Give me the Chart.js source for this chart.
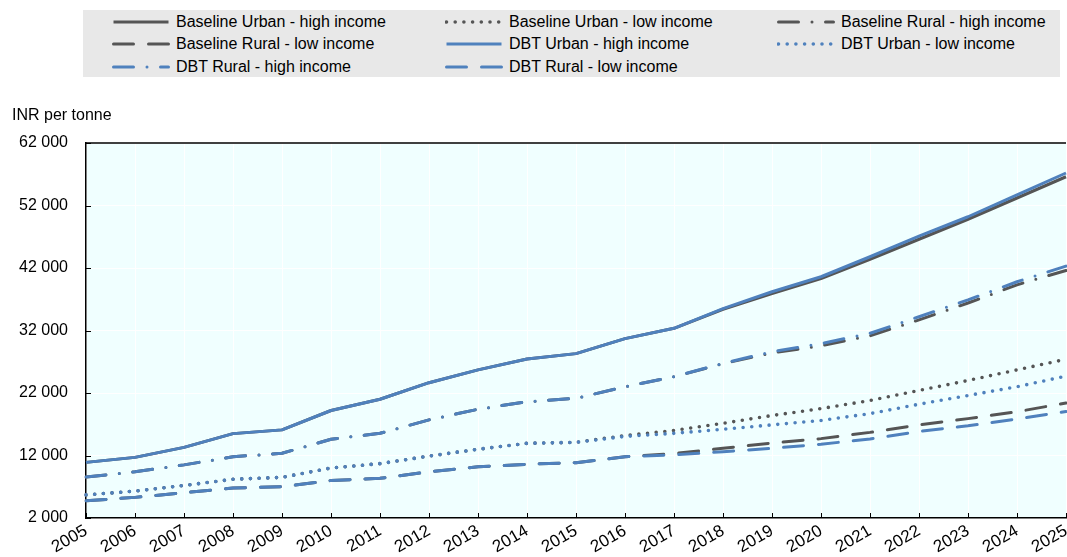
<!DOCTYPE html>
<html>
<head>
<meta charset="utf-8">
<script src="https://cdn.jsdelivr.net/npm/chart.js@4/dist/chart.umd.min.js"></script>
<style>
    body { margin: 0; background: #fff; overflow: hidden; font-family: Arial, "Liberation Sans", sans-serif; }
    #wrap { position: absolute; left: 0; top: 0; width: 1067px; height: 557px; }
    #legend-box { position: absolute; left: 83px; top: 10px; width: 977px; height: 67px; background: #e8e8e8; }
    .legend-item { position: absolute; height: 22px; display: flex; align-items: center; font-size: 16px; color: #000; white-space: nowrap; }
    .legend-item svg { width: 58px; height: 8px; margin-right: 6px; }
    #y-title { position: absolute; left: 12px; top: 106px; font-size: 16px; color: #000; }
</style>
</head>
<body>
<div id="wrap">
    <canvas id="price-chart"></canvas>
</div>
<div id="legend-box"></div>
<div id="y-title">INR per tonne</div>

<script>
/* data */
const years = ["2005", "2006", "2007", "2008", "2009", "2010", "2011", "2012", "2013", "2014", "2015",
               "2016", "2017", "2018", "2019", "2020", "2021", "2022", "2023", "2024", "2025"];

const baseUrbanHigh = [10900, 11700, 13300, 15500, 16100, 19200, 21000, 23650, 25700, 27450, 28300,
                       30700, 32350, 35400, 37900, 40300, 43400, 46600, 49800, 53200, 56600];
const baseUrbanLow  = [5700, 6300, 7200, 8200, 8500, 10000, 10700, 11900, 13000, 13950, 14100,
                       15200, 16000, 17150, 18400, 19500, 20800, 22400, 24000, 25700, 27400];
const baseRuralHigh = [8550, 9400, 10500, 11800, 12350, 14600, 15550, 17700, 19400, 20600, 21150,
                       23000, 24600, 26700, 28400, 29550, 31150, 33700, 36400, 39300, 41600];
const baseRuralLow  = [4750, 5300, 6050, 6800, 7000, 8000, 8350, 9400, 10200, 10600, 10850,
                       11800, 12300, 13150, 14000, 14700, 15700, 16900, 17900, 19000, 20400];

const dbtUrbanHigh = [10900, 11700, 13300, 15500, 16100, 19200, 21000, 23650, 25700, 27450, 28300,
                      30700, 32350, 35500, 38200, 40600, 43800, 47100, 50200, 53700, 57200];
const dbtUrbanLow  = [5700, 6300, 7200, 8200, 8500, 10000, 10700, 11900, 13000, 13950, 14100,
                      15050, 15550, 16200, 16900, 17600, 18700, 20200, 21600, 23000, 24700];
const dbtRuralHigh = [8550, 9400, 10500, 11800, 12350, 14600, 15550, 17700, 19400, 20600, 21150,
                      23000, 24600, 26750, 28600, 29900, 31550, 34200, 36900, 39800, 42300];
const dbtRuralLow  = [4750, 5300, 6050, 6800, 7000, 8000, 8350, 9400, 10200, 10600, 10850,
                      11800, 12100, 12600, 13150, 13800, 14650, 15850, 16750, 17850, 19050];

const yTicks = [2000, 12000, 22000, 32000, 42000, 52000, 62000];

const GREY = "#555555";
const BLUE = "#4f81bd";

// line patterns
const SOLID = [];
const DOTS = [0, 8.7];
const DASH_DOT = [20, 13.5, 0, 13.5];
const DASHED = [20, 15];

function makeLine(label, data, color, dash, order) {
    return {
        label: label,
        data: data,
        borderColor: color,
        backgroundColor: color,
        borderWidth: dash === DOTS ? 3.6 : 3,
        borderDash: dash,
        borderCapStyle: dash.length ? "round" : "butt",
        borderJoinStyle: "round",
        pointRadius: 0,
        tension: 0,
        fill: false,
        order: order
    };
}

// space as thousands separator
function formatThousands(value) {
    return String(value).replace(/\B(?=(\d{3})+(?!\d))/g, " ");
}

// plot background + top border + inner tick marks
const plotDecor = {
    id: "plotDecor",
    beforeDraw(chart) {
        const { ctx, chartArea } = chart;
        ctx.save();
        ctx.fillStyle = "#f0ffff";
        ctx.fillRect(chartArea.left, chartArea.top, chartArea.right - chartArea.left, chartArea.bottom - chartArea.top);
        ctx.restore();
    },
    afterDraw(chart) {
        const { ctx, chartArea, scales } = chart;
        ctx.save();
        ctx.strokeStyle = "#000";
        ctx.lineWidth = 1.5;

        ctx.beginPath();
        ctx.moveTo(chartArea.left, chartArea.top);
        ctx.lineTo(chartArea.right, chartArea.top);
        ctx.stroke();

        ctx.lineWidth = 1;
        ctx.beginPath();
        yTicks.forEach(v => {
            const y = Math.round(scales.y.getPixelForValue(v)) + 0.5;
            ctx.moveTo(chartArea.left, y);
            ctx.lineTo(chartArea.left + 5, y);
        });
        years.forEach((yr, i) => {
            const x = Math.round(scales.x.getPixelForValue(i)) + 0.5;
            ctx.moveTo(x, chartArea.bottom);
            ctx.lineTo(x, chartArea.bottom - 5);
        });
        ctx.stroke();
        ctx.restore();
    }
};

const datasets = [
    makeLine("Baseline Urban - high income", baseUrbanHigh, GREY, SOLID, 2),
    makeLine("Baseline Urban - low income", baseUrbanLow, GREY, DOTS, 2),
    makeLine("Baseline Rural - high income", baseRuralHigh, GREY, DASH_DOT, 2),
    makeLine("Baseline Rural - low income", baseRuralLow, GREY, DASHED, 2),
    makeLine("DBT Urban - high income", dbtUrbanHigh, BLUE, SOLID, 1),
    makeLine("DBT Urban - low income", dbtUrbanLow, BLUE, DOTS, 1),
    makeLine("DBT Rural - high income", dbtRuralHigh, BLUE, DASH_DOT, 1),
    makeLine("DBT Rural - low income", dbtRuralLow, BLUE, DASHED, 1)
];

Chart.defaults.font.family = 'Arial, "Liberation Sans", sans-serif';
Chart.defaults.font.size = 16;
Chart.defaults.color = "#000";

const ctx = document.getElementById("price-chart").getContext("2d");

const priceChart = new Chart(ctx, {
    type: "line",
    data: { labels: years, datasets: datasets },
    options: {
        responsive: true,
        maintainAspectRatio: false,
        animation: false,
        layout: { padding: { top: 143, left: 0, right: 1, bottom: 0 } },
        plugins: {
            legend: { display: false },
            tooltip: { enabled: false }
        },
        scales: {
            x: {
                grid: { color: "#ffffff", lineWidth: 1, drawTicks: false },
                border: { color: "#000", width: 1.5 },
                ticks: { maxRotation: 30, minRotation: 30, padding: 3, autoSkip: false, font: { size: 17 } },
                afterFit(scale) {
                    scale.height = 39;
                    scale.paddingLeft = 0;
                    scale.paddingRight = 0;
                }
            },
            y: {
                min: 2000,
                max: 62000,
                afterBuildTicks(scale) {
                    scale.ticks = yTicks.map(v => ({ value: v }));
                },
                grid: { color: "#ffffff", lineWidth: 1, drawTicks: false },
                border: { color: "#000", width: 1.5 },
                ticks: {
                    padding: 18,
                    callback: value => formatThousands(value)
                },
                afterFit(scale) {
                    scale.width = 86;
                }
            }
        }
    },
    plugins: [plotDecor]
});

// legend: 3 columns, row-major
function renderLegend(chart) {
    const box = document.getElementById("legend-box");
    const colLeft = [112, 445, 777];
    const rowTop = [11, 33, 56];
    chart.data.datasets.forEach((ds, i) => {
        const col = i % 3;
        const row = Math.floor(i / 3);
        const item = document.createElement("div");
        item.className = "legend-item";
        item.style.left = (colLeft[col] - 83) + "px";
        item.style.top = (rowTop[row] - 10) + "px";
        const dash = ds.borderDash.length ? ds.borderDash.join(" ") : "none";
        item.innerHTML = `
            <svg viewBox="0 0 58 8">
                <line x1="1.5" y1="4" x2="56.5" y2="4" stroke="${ds.borderColor}" stroke-width="${ds.borderWidth}"
                      stroke-dasharray="${dash}" stroke-linecap="${ds.borderCapStyle}"/>
            </svg>
            <span>${ds.label}</span>
        `;
        box.appendChild(item);
    });
}

renderLegend(priceChart);
</script>
</body>
</html>
